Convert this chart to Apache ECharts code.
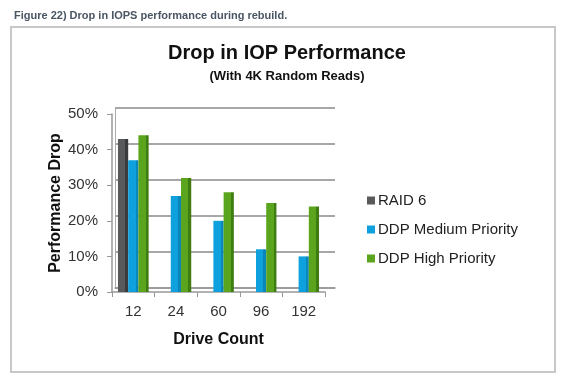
<!DOCTYPE html>
<html><head><meta charset="utf-8">
<script src="https://cdn.jsdelivr.net/npm/echarts@6/dist/echarts.min.js"></script>
<style>html,body{margin:0;padding:0;background:#fff}#c{width:563px;height:380px}</style>
</head><body><div id="c"></div>
<script>
const categories = ['12', '24', '60', '96', '192'];
const raid6 = [43, null, null, null, null];
const ddpMedium = [37, 27, 20, 12, 10];
const ddpHigh = [44, 32, 28, 25, 24];
const yTicks = [0, 10, 20, 30, 40, 50];

const FONT = '"Liberation Sans", Arial, sans-serif';
function face(c, d) {
  return { type: 'linear', x: 0, y: 0, x2: 1, y2: 0,
    colorStops: [{offset: 0, color: c}, {offset: 0.72, color: c}, {offset: 0.72, color: d}, {offset: 1, color: d}] };
}
const chart = echarts.init(document.getElementById('c'), null, {renderer: 'canvas'});
chart.setOption({
  backgroundColor: '#fff',
  animation: false,
  textStyle: {fontFamily: FONT},
  title: [
    {text: 'Figure 22) Drop in IOPS performance during rebuild.', left: 9, top: 5,
     textStyle: {fontSize: 11, fontWeight: 'bold', color: '#4a5663', fontFamily: FONT}},
    {text: 'Drop in IOP Performance', left: 282, textAlign: 'center', top: 38,
     textStyle: {fontSize: 20, fontWeight: 'bold', color: '#111', fontFamily: FONT}},
    {text: '(With 4K Random Reads)', left: 282, textAlign: 'center', top: 65,
     textStyle: {fontSize: 13, fontWeight: 'bold', color: '#111', fontFamily: FONT}}
  ],
  graphic: [
    {type: 'rect', shape: {x: 11, y: 27, width: 544, height: 345}, silent: true,
     style: {fill: 'none', stroke: '#c8c8c8', lineWidth: 2}}
  ],
  legend: {
    orient: 'vertical', left: 362, top: 188, itemGap: 14,
    itemWidth: 8, itemHeight: 8, icon: 'rect',
    textStyle: {fontSize: 15, color: '#222', fontFamily: FONT, padding: [0, 0, 0, -2]},
    data: [
      {name: 'RAID 6', itemStyle: {color: '#58595b'}},
      {name: 'DDP Medium Priority', itemStyle: {color: '#0ea1dd'}},
      {name: 'DDP High Priority', itemStyle: {color: '#5aa51d'}}
    ]
  },
  grid: [
    {left: 112, right: 238, top: 114, bottom: 88},
    {left: 115, right: 228, top: 108, bottom: 92}
  ],
  xAxis: [
    {type: 'category', gridIndex: 0, data: categories,
     axisLine: {lineStyle: {color: '#999', width: 1.5}},
     axisTick: {show: true, length: 5, lineStyle: {color: '#999'}},
     axisLabel: {fontSize: 15, color: '#333', margin: 12, fontFamily: FONT},
     name: 'Drive Count', nameLocation: 'middle', nameGap: 40,
     nameTextStyle: {fontSize: 16, fontWeight: 'bold', color: '#111', fontFamily: FONT}},
    {type: 'category', gridIndex: 1, data: categories, show: true,
     axisLine: {lineStyle: {color: '#999', width: 1.5}},
     axisTick: {show: false}, axisLabel: {show: false}}
  ],
  yAxis: [
    {type: 'value', gridIndex: 0, min: yTicks[0], max: yTicks[yTicks.length - 1], interval: 10,
     axisLine: {show: true, lineStyle: {color: '#999', width: 1.5}},
     axisTick: {show: true, length: 5, lineStyle: {color: '#999'}},
     splitLine: {show: false},
     axisLabel: {fontSize: 15, color: '#333', margin: 14, formatter: '{value}%', fontFamily: FONT},
     name: 'Performance Drop', nameLocation: 'middle', nameGap: 46, nameRotate: 90,
     nameTextStyle: {fontSize: 16, fontWeight: 'bold', color: '#111', fontFamily: FONT}},
    {type: 'value', gridIndex: 1, min: yTicks[0], max: yTicks[yTicks.length - 1], interval: 10,
     axisLine: {show: true, lineStyle: {color: '#aaa', width: 1}},
     axisTick: {show: false}, axisLabel: {show: false},
     splitLine: {show: true, lineStyle: {color: '#8a8a8a', width: 1.5}}}
  ],
  series: [
    {name: 'RAID 6', type: 'bar', xAxisIndex: 0, yAxisIndex: 0, data: raid6,
     barGap: '0%', barCategoryGap: '28%', color: '#58595b',
     itemStyle: {color: face('#58595b', '#3a3b3d')}},
    {name: 'DDP Medium Priority', type: 'bar', xAxisIndex: 0, yAxisIndex: 0, data: ddpMedium,
     barGap: '0%', barCategoryGap: '28%', color: '#0ea1dd',
     itemStyle: {color: face('#0ea1dd', '#0b86b8')}},
    {name: 'DDP High Priority', type: 'bar', xAxisIndex: 0, yAxisIndex: 0, data: ddpHigh,
     barGap: '0%', barCategoryGap: '28%', color: '#5aa51d',
     itemStyle: {color: face('#5aa51d', '#3f7d12')}}
  ]
});
</script></body></html>
